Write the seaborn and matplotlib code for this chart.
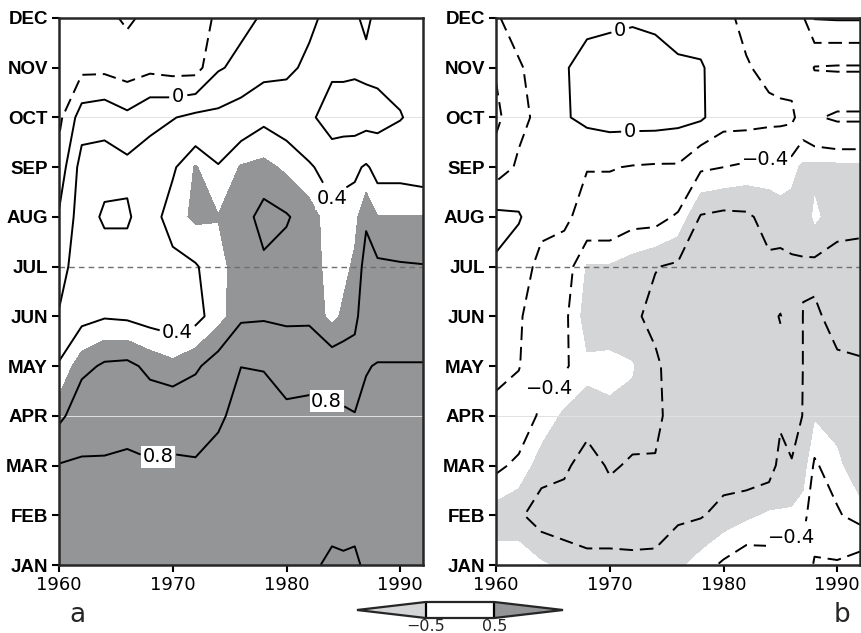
import numpy as np
import matplotlib
matplotlib.use("Agg")
import matplotlib as mpl
import matplotlib.pyplot as plt
from matplotlib import font_manager
from matplotlib.colors import ListedColormap, BoundaryNorm
import seaborn as sns

# ---------------- data ----------------
years = [1960, 1962, 1964, 1966, 1968, 1970, 1972, 1974, 1976, 1978,
         1980, 1982, 1984, 1985, 1986, 1987, 1988, 1990, 1992]
month_labels = ["JAN", "FEB", "MAR", "APR", "MAY", "JUN",
                "JUL", "AUG", "SEP", "OCT", "NOV", "DEC"]
year_ticks = [1960, 1970, 1980, 1990]

# panel a: one list per year, JAN..DEC
a1960 = [0.95, 0.88, 0.81, 0.555, 0.42, 0.216, 0.11, 0.02, -0.12, -0.25, -0.3, -0.35]
a1962 = [0.95, 0.86, 0.82, 0.71, 0.56, 0.36, 0.33, 0.3, 0.28, 0.1, -0.25, -0.33]
a1964 = [0.95, 0.87, 0.82, 0.72, 0.62, 0.39, 0.3, 0.17, 0.27, 0.14, -0.25, -0.35]
a1966 = [0.96, 0.9, 0.84, 0.72, 0.63, 0.38, 0.3, 0.17, 0.25, 0.05, -0.3, -0.43]
a1968 = [0.95, 0.88, 0.82, 0.68, 0.57, 0.35, 0.33, 0.34, 0.25, 0.17, -0.25, -0.35]
a1970 = [0.95, 0.88, 0.83, 0.7, 0.53, 0.33, 0.36, 0.46, 0.38, 0.19, -0.28, -0.36]
a1972 = [0.95, 0.88, 0.82, 0.7, 0.58, 0.36, 0.39, 0.52, 0.51, 0.25, -0.28, -0.33]
a1974 = [0.96, 0.9, 0.84, 0.78, 0.66, 0.46, 0.46, 0.505, 0.41, 0.25, -0.02, -0.15]
a1976 = [0.97, 0.93, 0.88, 0.84, 0.799, 0.57, 0.56, 0.55, 0.51, 0.3, 0.05, -0.05]
a1978 = [0.97, 0.93, 0.88, 0.84, 0.795, 0.58, 0.58, 0.64, 0.53, 0.37, 0.13, 0.02]
a1980 = [0.97, 0.92, 0.87, 0.84, 0.72, 0.57, 0.56, 0.61, 0.48, 0.33, 0.16, 0.1]
a1982 = [0.97, 0.92, 0.87, 0.85, 0.73, 0.57, 0.56, 0.55, 0.42, 0.24, 0.24, 0.16]
a1984 = [1.03, 0.95, 0.88, 0.84, 0.68, 0.47, 0.45, 0.44, 0.33, 0.1, 0.24, 0.26]
a1985 = [1.02, 0.95, 0.88, 0.83, 0.68, 0.52, 0.47, 0.45, 0.36, 0.1, 0.24, 0.27]
a1986 = [1.03, 0.95, 0.87, 0.81, 0.67, 0.56, 0.52, 0.47, 0.37, 0.1, 0.23, 0.22]
a1987 = [0.97, 0.93, 0.88, 0.84, 0.79, 0.7, 0.65, 0.58, 0.42, 0.12, 0.24, 0.17]
a1988 = [0.96, 0.93, 0.89, 0.85, 0.81, 0.68, 0.62, 0.505, 0.35, 0.13, 0.25, 0.24]
a1990 = [0.96, 0.93, 0.89, 0.85, 0.81, 0.68, 0.61, 0.505, 0.35, 0.19, 0.26, 0.27]
a1992 = [0.96, 0.93, 0.89, 0.85, 0.81, 0.68, 0.605, 0.505, 0.33, 0.27, 0.27, 0.28]

# panel b
b1960 = [-0.45, -0.55, -0.37, -0.25, -0.15, -0.1, -0.02, 0.05, -0.3, -0.45, -0.38, -0.22]
b1962 = [-0.42, -0.58, -0.43, -0.3, -0.19, -0.18, -0.12, 0.02, -0.17, -0.25, -0.22, -0.12]
b1964 = [-0.48, -0.66, -0.55, -0.43, -0.35, -0.3, -0.25, -0.15, -0.12, -0.15, -0.12, -0.1]
b1966 = [-0.52, -0.68, -0.57, -0.52, -0.38, -0.37, -0.33, -0.15, -0.05, -0.02, -0.01, -0.05]
b1968 = [-0.56, -0.68, -0.67, -0.53, -0.48, -0.55, -0.51, -0.3, -0.19, 0.05, 0.04, -0.03]
b1970 = [-0.56, -0.68, -0.58, -0.52, -0.47, -0.56, -0.51, -0.3, -0.19, 0.08, 0.07, -0.03]
b1972 = [-0.57, -0.67, -0.62, -0.53, -0.49, -0.58, -0.55, -0.35, -0.21, 0.08, 0.09, -0.02]
b1974 = [-0.58, -0.64, -0.61, -0.57, -0.58, -0.63, -0.595, -0.35, -0.22, 0.08, 0.1, -0.05]
b1976 = [-0.52, -0.62, -0.65, -0.66, -0.66, -0.65, -0.62, -0.42, -0.22, 0.06, 0.03, -0.08]
b1978 = [-0.45, -0.61, -0.7, -0.72, -0.72, -0.7, -0.68, -0.61, -0.38, 0.03, 0.02, -0.1]
b1980 = [-0.38, -0.56, -0.66, -0.72, -0.73, -0.72, -0.7, -0.63, -0.4, -0.12, -0.1, -0.14]
b1982 = [-0.32, -0.52, -0.68, -0.72, -0.74, -0.73, -0.7, -0.62, -0.43, -0.12, -0.18, -0.26]
b1984 = [-0.35, -0.48, -0.66, -0.72, -0.74, -0.75, -0.62, -0.56, -0.45, -0.14, -0.26, -0.3]
b1985 = [-0.34, -0.49, -0.56, -0.62, -0.74, -0.81, -0.63, -0.55, -0.43, -0.15, -0.28, -0.3]
b1986 = [-0.3, -0.48, -0.59, -0.66, -0.68, -0.68, -0.62, -0.54, -0.47, -0.16, -0.28, -0.3]
b1987 = [-0.33, -0.45, -0.55, -0.595, -0.598, -0.598, -0.605, -0.58, -0.52, -0.3, -0.28, -0.22]
b1988 = [-0.18, -0.3, -0.38, -0.51, -0.55, -0.58, -0.63, -0.47, -0.53, -0.22, -0.41, 0.01]
b1990 = [-0.18, -0.38, -0.48, -0.53, -0.58, -0.64, -0.63, -0.57, -0.53, -0.17, -0.42, 0.02]
b1992 = [-0.1, -0.47, -0.55, -0.57, -0.59, -0.64, -0.64, -0.57, -0.53, -0.17, -0.42, 0.02]

levels_a = [-0.4, -0.2, 0.0, 0.2, 0.4, 0.6, 0.8, 1.0]
levels_b = [-0.8, -0.6, -0.4, -0.2, 0.0, 0.2]
shade_threshold = 0.5

# ---------------- style ----------------
sns.set_style("ticks")
names = {f.name for f in font_manager.fontManager.ttflist}
if "Liberation Sans Narrow" in names:
    month_font = "Liberation Sans Narrow"
elif "Liberation Sans" in names:
    month_font = "Liberation Sans"
else:
    month_font = "DejaVu Sans"
plt.rcParams["font.family"] = ["DejaVu Sans"]
plt.rcParams["axes.linewidth"] = 1.6

dark = "#949597"
light = "#d4d5d7"

A = np.array([a1960, a1962, a1964, a1966, a1968, a1970, a1972, a1974, a1976, a1978,
              a1980, a1982, a1984, a1985, a1986, a1987, a1988, a1990, a1992]).T
B = np.array([b1960, b1962, b1964, b1966, b1968, b1970, b1972, b1974, b1976, b1978,
              b1980, b1982, b1984, b1985, b1986, b1987, b1988, b1990, b1992]).T
X, Y = np.meshgrid(years, np.arange(12))

fig = plt.figure(figsize=(8.61, 6.33), dpi=100)
axa = fig.add_axes([59 / 861, 1 - 565 / 633, 364 / 861, 547 / 633])
axb = fig.add_axes([496 / 861, 1 - 565 / 633, 364 / 861, 547 / 633])


def fmt(v):
    if abs(v) < 1e-9:
        return "0"
    return f"{v:.1f}".replace("-", "\u2212")


def draw_panel(ax, Z, levels, shade_levels, shade_color, labels):
    ax.contourf(X, Y, Z, levels=shade_levels, colors=[shade_color], zorder=1)
    for m in (3, 9):
        ax.axhline(m, color="#e2e2e2", lw=0.7, zorder=1.5)
    ax.axhline(6, color="#707070", lw=1.0, ls=(0, (4, 3)), zorder=1.6)
    sets = {}
    for lv in levels:
        cs = ax.contour(X, Y, Z, levels=[lv], colors="black", linewidths=1.4, zorder=3)
        if lv < 0:
            cs.set_linestyle((0, (7, 3.5)))
        else:
            cs.set_linestyle("solid")
        sets[lv] = cs
    texts = []
    for lv, pts in labels:
        cs = sets[lv]
        if len(cs.allsegs[0]) == 0:
            continue
        texts += cs.clabel(fmt=fmt, fontsize=14, inline=True,
                           inline_spacing=3, manual=pts)
    for t in texts:
        t.set_rotation(0)
        t.set_bbox(dict(boxstyle="square,pad=0.08", fc="white", ec="none"))
        t.set_zorder(4)
    ax.set_xlim(1960, 1992)
    ax.set_ylim(0, 11)
    ax.set_xticks(year_ticks)
    ax.set_xticklabels([str(y) for y in year_ticks], fontsize=13)
    ax.set_yticks(range(12))
    ax.set_yticklabels(month_labels, fontsize=13.5, fontweight="bold",
                       family=[month_font, "DejaVu Sans"])
    ax.tick_params(direction="out", length=5, width=1.5, pad=3, colors="black")
    for s in ax.spines.values():
        s.set_linewidth(1.8)
        s.set_zorder(5)


draw_panel(axa, A, levels_a, [shade_threshold, 5], dark,
           [(0.0, [(1970.5, 9.4)]),
            (0.4, [(1970.7, 4.5), (1983.7, 7.3)]),
            (0.8, [(1968.6, 2.3), (1983.7, 3.4)])])
draw_panel(axb, B, levels_b, [-5, -shade_threshold], light,
           [(0.0, [(1971.1, 10.6), (1971.8, 8.75)]),
            (-0.4, [(1983.7, 8.2), (1965.0, 3.5), (1986.0, 0.55)])])

# colour bar
cax = fig.add_axes([357 / 861, 1 - 618 / 633, 206 / 861, 16 / 633])
cmap = ListedColormap(["white"])
cmap.set_under(light)
cmap.set_over(dark)
norm = BoundaryNorm([-shade_threshold, shade_threshold], cmap.N)
cb = fig.colorbar(mpl.cm.ScalarMappable(norm=norm, cmap=cmap), cax=cax,
                  orientation="horizontal", extend="both", extendfrac=1.0,
                  ticks=[-shade_threshold, shade_threshold], drawedges=True)
cb.outline.set_linewidth(1.6)
cb.dividers.set_linewidth(1.6)
cb.dividers.set_color("black")
cb.ax.set_xticklabels([fmt(-shade_threshold), fmt(shade_threshold)], fontsize=11.5,
                      family="DejaVu Sans")
cb.ax.tick_params(length=0, pad=0.5)

fig.text(77 / 861, 1 - 622 / 633, "a", fontsize=19, ha="center", va="baseline")
fig.text(842 / 861, 1 - 622 / 633, "b", fontsize=19, ha="center", va="baseline")

fig.savefig("out.png", dpi=100)
